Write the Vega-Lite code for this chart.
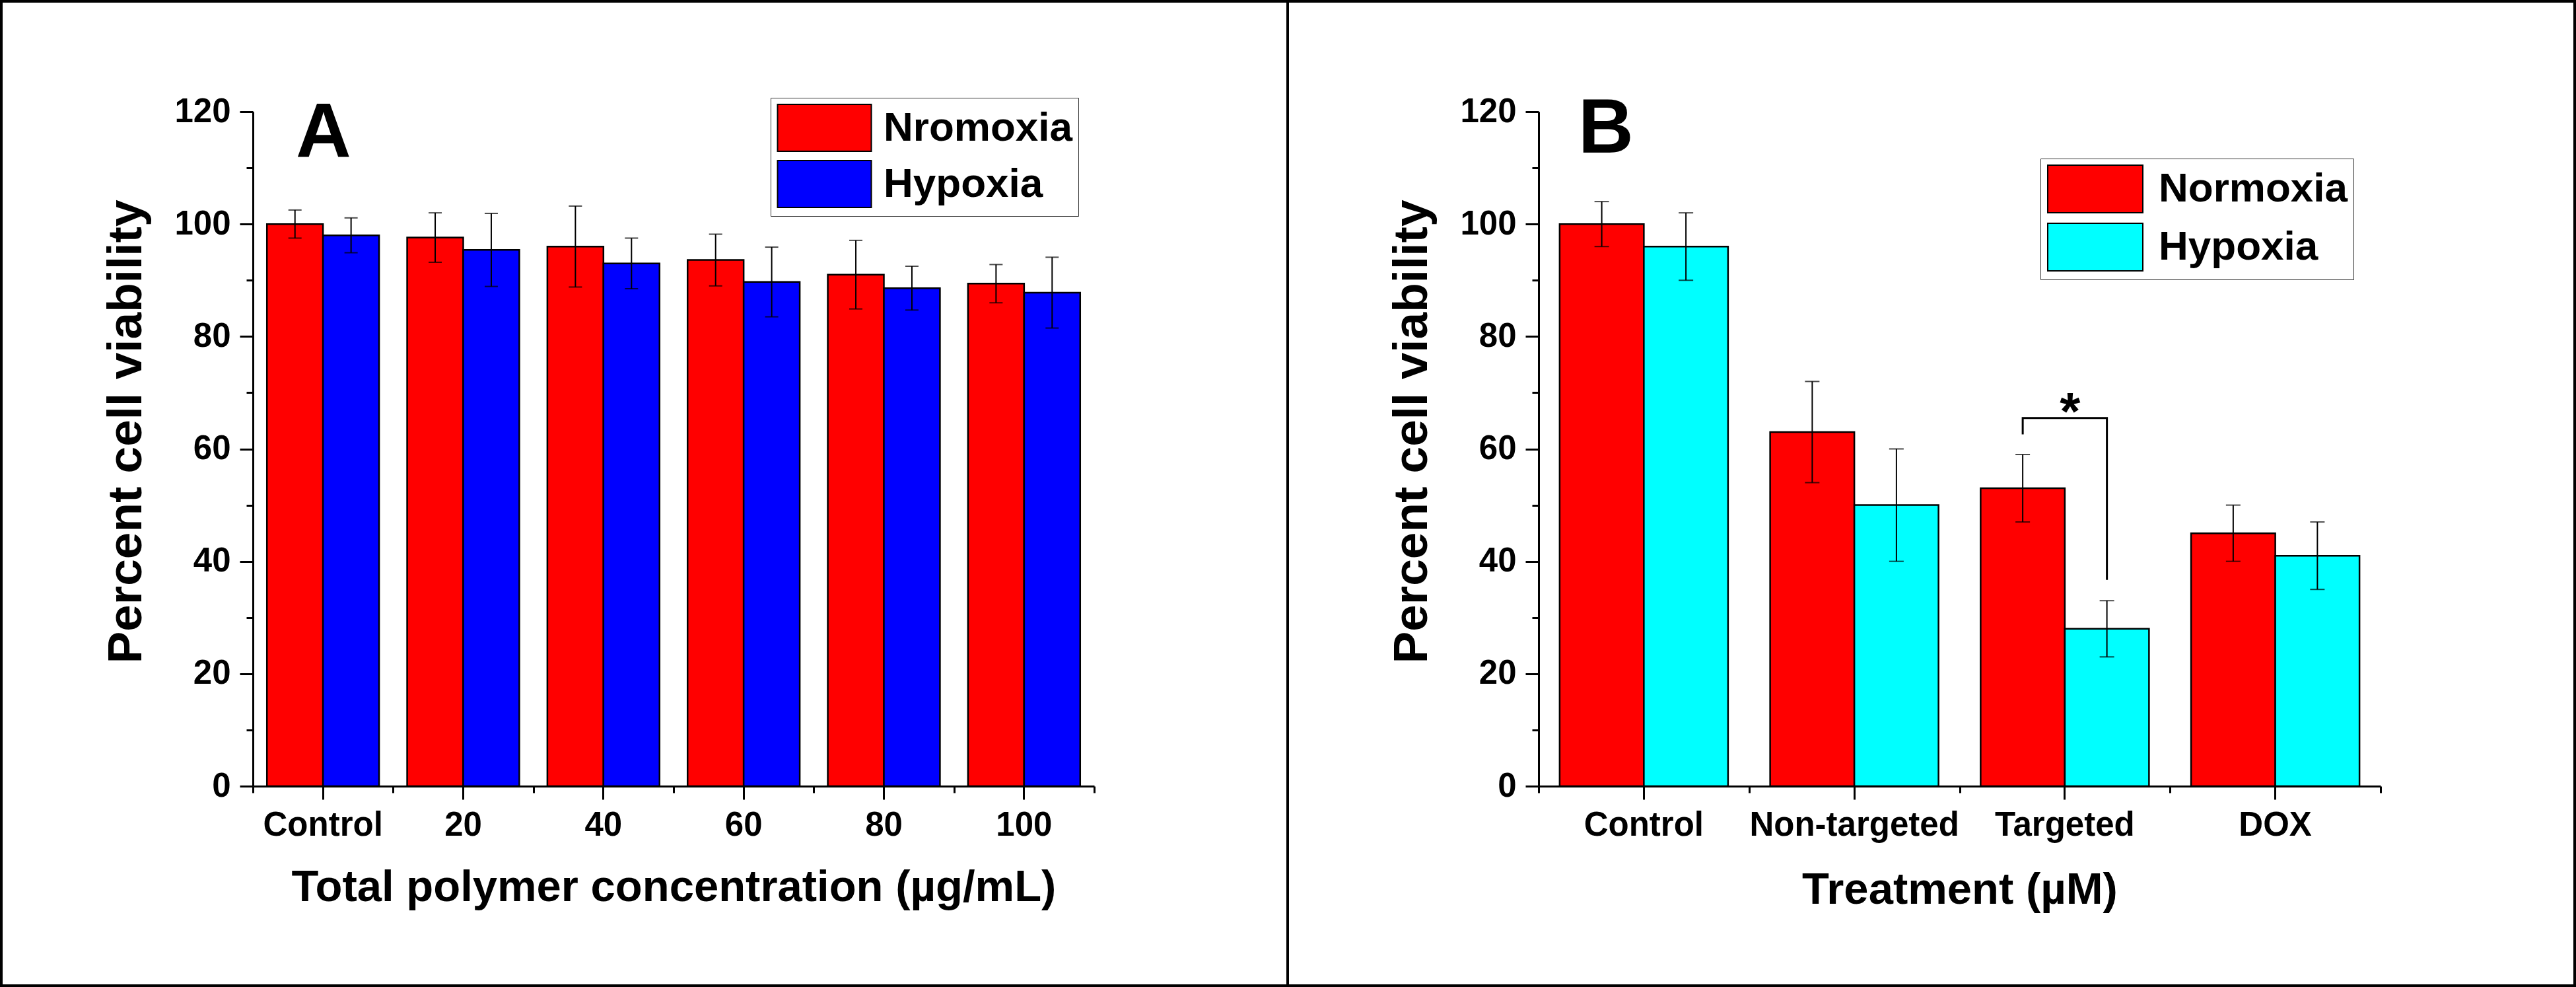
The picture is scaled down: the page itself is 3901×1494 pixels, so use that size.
{
  "$schema": "https://vega.github.io/schema/vega-lite/v6.json",
  "autosize": {"type": "pad"},
  "padding": 0,
  "background": "white",
  "bounds": "flush",
  "spacing": 0,
  "config": {
    "view": {"stroke": "black", "strokeWidth": 4, "fill": "white"},
    "font": "Liberation Sans",
    "concat": {"spacing": 0},
    "axis": {"labelLimit": 0},
    "legend": {"labelLimit": 0}
  },
  "resolve": {
    "scale": {"x": "independent", "y": "independent", "xOffset": "independent", "fill": "independent"},
    "legend": {"fill": "independent"}
  },
  "hconcat": [
    {
      "width": 1948,
      "height": 1490,
      "title": {"text": "A", "anchor": "start", "orient": "top", "frame": "group", "fontSize": 116, "font": "Liberation Sans", "fontWeight": "bold", "color": "black", "baseline": "alphabetic", "offset": 0, "dx": 446, "dy": 352},
      "data": {"values": [
        {"conc": "Control", "cond": "Nromoxia", "v": 100, "e": 2.5},
        {"conc": "Control", "cond": "Hypoxia", "v": 98, "e": 3.1},
        {"conc": "20", "cond": "Nromoxia", "v": 97.6, "e": 4.4},
        {"conc": "20", "cond": "Hypoxia", "v": 95.4, "e": 6.5},
        {"conc": "40", "cond": "Nromoxia", "v": 96, "e": 7.2},
        {"conc": "40", "cond": "Hypoxia", "v": 93, "e": 4.5},
        {"conc": "60", "cond": "Nromoxia", "v": 93.6, "e": 4.6},
        {"conc": "60", "cond": "Hypoxia", "v": 89.7, "e": 6.2},
        {"conc": "80", "cond": "Nromoxia", "v": 91, "e": 6.1},
        {"conc": "80", "cond": "Hypoxia", "v": 88.6, "e": 3.9},
        {"conc": "100", "cond": "Nromoxia", "v": 89.4, "e": 3.4},
        {"conc": "100", "cond": "Hypoxia", "v": 87.8, "e": 6.3}
      ]},
      "layer": [
        {
          "mark": {"type": "bar", "stroke": "black", "strokeWidth": 2.5, "opacity": 1},
          "encoding": {
            "x": {"field": "conc", "type": "nominal", "sort": null,
              "scale": {"domain": ["Control", "20", "40", "60", "80", "100"], "range": [381, 1655], "paddingInner": 0, "paddingOuter": 0},
              "axis": {"orient": "bottom", "offset": -302, "tickSize": 20, "tickWidth": 3, "tickColor": "black", "domainWidth": 3, "domainColor": "black", "labelFontSize": 51, "labelFontWeight": "bold", "labelColor": "black", "labelPadding": 14, "labelAngle": 0, "labelLimit": 0, "grid": false,
                "title": "Total polymer concentration (µg/mL)", "titleFontSize": 67, "titleFontWeight": "bold", "titleColor": "black", "titleBaseline": "alphabetic", "titleY": 173}},
            "xOffset": {"field": "cond", "type": "nominal", "sort": ["Nromoxia", "Hypoxia"], "scale": {"domain": ["Nromoxia", "Hypoxia"], "paddingInner": 0, "paddingOuter": 0.25}},
            "y": {"field": "v", "type": "quantitative",
              "scale": {"domain": [0, 120], "range": [1188, 167], "nice": false, "zero": true},
              "axis": {"orient": "left", "offset": -381, "values": [0, 20, 40, 60, 80, 100, 120], "tickSize": 20, "tickWidth": 3, "tickColor": "black", "domainWidth": 3, "domainColor": "black", "labelFontSize": 51, "labelFontWeight": "bold", "labelColor": "black", "labelPadding": 14, "grid": false, "labelFlush": false,
                "title": "Percent cell viability", "titleFontSize": 73, "titleFontWeight": "bold", "titleColor": "black", "titleBaseline": "alphabetic", "titleX": -170, "titleY": 651}},
            "fill": {"field": "cond", "type": "nominal", "sort": ["Nromoxia", "Hypoxia"],
              "scale": {"domain": ["Nromoxia", "Hypoxia"], "range": ["#FF0000", "#0000FF"]},
              "legend": {"orient": "none", "legendX": 1165, "legendY": 146, "title": null, "symbolType": "M-2,-1H2V1H-2Z", "symbolSize": 5041, "symbolStrokeColor": "black", "symbolStrokeWidth": 2, "symbolOpacity": 1, "symbolOffset": 36, "labelFontSize": 62, "labelFontWeight": "bold", "labelColor": "black", "labelOffset": 53, "labelLimit": 0, "rowPadding": 6, "padding": 9, "strokeColor": "#333333"}}
          }
        },
        {
          "mark": {"type": "errorbar", "ticks": true, "size": 20, "thickness": 2, "color": "black"},
          "encoding": {
            "x": {"field": "conc", "type": "nominal", "sort": null,
              "axis": {"orient": "bottom", "offset": -302, "tickBand": "extent", "tickSize": 10, "tickWidth": 3, "tickColor": "black", "labels": false, "domain": false, "grid": false, "title": null}},
            "xOffset": {"field": "cond", "type": "nominal", "sort": ["Nromoxia", "Hypoxia"]},
            "y": {"field": "v", "type": "quantitative",
              "axis": {"orient": "left", "offset": -381, "values": [10, 30, 50, 70, 90, 110], "tickSize": 10, "tickWidth": 3, "tickColor": "black", "labels": false, "domain": false, "grid": false, "title": null}},
            "yError": {"field": "e"}
          }
        }
      ],
      "resolve": {"axis": {"x": "independent", "y": "independent"}}
    },
    {
      "width": 1949,
      "height": 1490,
      "title": {"text": "B", "anchor": "start", "orient": "top", "frame": "group", "fontSize": 116, "font": "Liberation Sans", "fontWeight": "bold", "color": "black", "baseline": "alphabetic", "offset": 0, "dx": 440, "dy": 345},
      "data": {"values": [
        {"treat": "Control", "cond": "Normoxia", "v": 100, "e": 4},
        {"treat": "Control", "cond": "Hypoxia", "v": 96, "e": 6},
        {"treat": "Non-targeted", "cond": "Normoxia", "v": 63, "e": 9},
        {"treat": "Non-targeted", "cond": "Hypoxia", "v": 50, "e": 10},
        {"treat": "Targeted", "cond": "Normoxia", "v": 53, "e": 6},
        {"treat": "Targeted", "cond": "Hypoxia", "v": 28, "e": 5},
        {"treat": "DOX", "cond": "Normoxia", "v": 45, "e": 5},
        {"treat": "DOX", "cond": "Hypoxia", "v": 41, "e": 6}
      ]},
      "layer": [
        {
          "mark": {"type": "bar", "stroke": "black", "strokeWidth": 2.5, "opacity": 1},
          "encoding": {
            "x": {"field": "treat", "type": "nominal", "sort": null,
              "scale": {"domain": ["Control", "Non-targeted", "Targeted", "DOX"], "range": [380, 1655], "paddingInner": 0, "paddingOuter": 0},
              "axis": {"orient": "bottom", "offset": -302, "tickSize": 20, "tickWidth": 3, "tickColor": "black", "domainWidth": 3, "domainColor": "black", "labelFontSize": 51, "labelFontWeight": "bold", "labelColor": "black", "labelPadding": 14, "labelAngle": 0, "labelLimit": 0, "grid": false,
                "title": "Treatment (µM)", "titleFontSize": 67, "titleFontWeight": "bold", "titleColor": "black", "titleBaseline": "alphabetic", "titleY": 177}},
            "xOffset": {"field": "cond", "type": "nominal", "sort": ["Normoxia", "Hypoxia"], "scale": {"domain": ["Normoxia", "Hypoxia"], "paddingInner": 0, "paddingOuter": 0.25}},
            "y": {"field": "v", "type": "quantitative",
              "scale": {"domain": [0, 120], "range": [1188, 167], "nice": false, "zero": true},
              "axis": {"orient": "left", "offset": -380, "values": [0, 20, 40, 60, 80, 100, 120], "tickSize": 20, "tickWidth": 3, "tickColor": "black", "domainWidth": 3, "domainColor": "black", "labelFontSize": 51, "labelFontWeight": "bold", "labelColor": "black", "labelPadding": 14, "grid": false, "labelFlush": false,
                "title": "Percent cell viability", "titleFontSize": 73, "titleFontWeight": "bold", "titleColor": "black", "titleBaseline": "alphabetic", "titleX": -170, "titleY": 651}},
            "fill": {"field": "cond", "type": "nominal", "sort": ["Normoxia", "Hypoxia"],
              "scale": {"domain": ["Normoxia", "Hypoxia"], "range": ["#FF0000", "#00FFFF"]},
              "legend": {"orient": "none", "legendX": 1140, "legendY": 238, "title": null, "symbolType": "M-2,-1H2V1H-2Z", "symbolSize": 5184, "symbolStrokeColor": "black", "symbolStrokeWidth": 2, "symbolOpacity": 1, "symbolOffset": 37, "labelFontSize": 62, "labelFontWeight": "bold", "labelColor": "black", "labelOffset": 59, "labelLimit": 0, "rowPadding": 8, "padding": 9, "strokeColor": "#333333"}}
          }
        },
        {
          "mark": {"type": "errorbar", "ticks": true, "size": 22, "thickness": 2, "color": "black"},
          "encoding": {
            "x": {"field": "treat", "type": "nominal", "sort": null,
              "axis": {"orient": "bottom", "offset": -302, "tickBand": "extent", "tickSize": 10, "tickWidth": 3, "tickColor": "black", "labels": false, "domain": false, "grid": false, "title": null}},
            "xOffset": {"field": "cond", "type": "nominal", "sort": ["Normoxia", "Hypoxia"]},
            "y": {"field": "v", "type": "quantitative",
              "axis": {"orient": "left", "offset": -380, "values": [10, 30, 50, 70, 90, 110], "tickSize": 10, "tickWidth": 3, "tickColor": "black", "labels": false, "domain": false, "grid": false, "title": null}},
            "yError": {"field": "e"}
          }
        },
        {
          "data": {"values": [
            {"treat": "Targeted", "cond": "Normoxia", "v": 62.6, "o": 1},
            {"treat": "Targeted", "cond": "Normoxia", "v": 65.5, "o": 2},
            {"treat": "Targeted", "cond": "Hypoxia", "v": 65.5, "o": 3},
            {"treat": "Targeted", "cond": "Hypoxia", "v": 36.7, "o": 4}
          ]},
          "mark": {"type": "line", "color": "black", "strokeWidth": 3},
          "encoding": {
            "x": {"field": "treat", "type": "nominal", "sort": null, "axis": null},
            "xOffset": {"field": "cond", "type": "nominal", "sort": ["Normoxia", "Hypoxia"]},
            "y": {"field": "v", "type": "quantitative", "axis": null},
            "order": {"field": "o", "type": "quantitative"}
          }
        },
        {
          "data": {"values": [{"treat": "Targeted", "v": 63.5, "t": "*"}]},
          "mark": {"type": "text", "fontSize": 80, "fontWeight": "bold", "font": "Liberation Sans", "color": "black", "baseline": "alphabetic", "align": "center", "dx": 8},
          "encoding": {
            "x": {"field": "treat", "type": "nominal", "sort": null, "axis": null},
            "y": {"field": "v", "type": "quantitative", "axis": null},
            "text": {"field": "t"}
          }
        }
      ],
      "resolve": {"axis": {"x": "independent", "y": "independent"}}
    }
  ]
}
